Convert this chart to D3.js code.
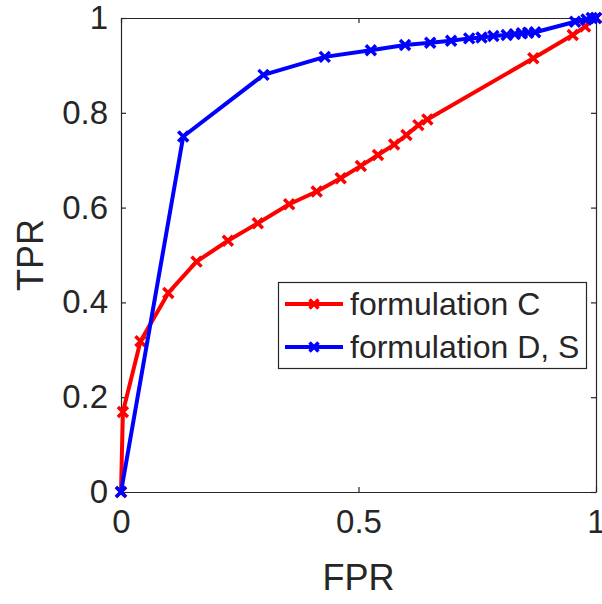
<!DOCTYPE html>
<html><head><meta charset="utf-8">
<script src="https://cdn.jsdelivr.net/npm/d3@7"></script>
<style>body{margin:0;background:#fff}svg{display:block}text{font-family:"Liberation Sans",Arial,sans-serif;fill:#262626}</style>
</head><body><svg id="c" width="602" height="604"></svg>
<script>
const seriesNames = ["formulation C", "formulation D, S"];
const seriesColors = ["#ff0000", "#0000ff"];
const fprC = [0, 0.004, 0.041, 0.0996, 0.159, 0.225, 0.288, 0.354, 0.412, 0.4625, 0.505, 0.541, 0.575, 0.601, 0.626, 0.645, 0.868, 0.951, 0.977, 1];
const tprC = [0, 0.169, 0.318, 0.420, 0.486, 0.530, 0.567, 0.607, 0.634, 0.662, 0.688, 0.711, 0.733, 0.753, 0.774, 0.786, 0.915, 0.964, 0.982, 1];
const fprDS = [0, 0.131, 0.300, 0.429, 0.526, 0.598, 0.651, 0.695, 0.733, 0.759, 0.784, 0.812, 0.829, 0.844, 0.857, 0.872, 0.956, 0.980, 0.991, 1];
const tprDS = [0, 0.750, 0.880, 0.918, 0.932, 0.943, 0.948, 0.952, 0.957, 0.959, 0.962, 0.964, 0.966, 0.968, 0.969, 0.970, 0.992, 0.997, 1.0, 1];
const xTicks = [0, 0.5, 1];
const yTicks = [0, 0.2, 0.4, 0.6, 0.8, 1];
const xTickLabels = ["0", "0.5", "1"];
const yTickLabels = ["0", "0.2", "0.4", "0.6", "0.8", "1"];

const L = 121, R = 596, T = 18, B = 492;
const svg = d3.select("#c");
const x = d3.scaleLinear().domain([0, 1]).range([L, R]);
const y = d3.scaleLinear().domain([0, 1]).range([B, T]);
const axisColor = "#262626";

// Axes
const fmtX = (d, i) => xTickLabels[i];
const fmtY = (d, i) => yTickLabels[i];
const gB = svg.append("g").attr("transform", `translate(0,${B})`)
  .call(d3.axisBottom(x).tickValues(xTicks).tickFormat(fmtX).tickSizeInner(-5).tickSizeOuter(0).tickPadding(18));
const gT = svg.append("g").attr("transform", `translate(0,${T})`)
  .call(d3.axisTop(x).tickValues(xTicks).tickFormat("").tickSizeInner(-5).tickSizeOuter(0));
const gL = svg.append("g").attr("transform", `translate(${L},0)`)
  .call(d3.axisLeft(y).tickValues(yTicks).tickFormat(fmtY).tickSizeInner(-5).tickSizeOuter(0).tickPadding(13));
const gR = svg.append("g").attr("transform", `translate(${R},0)`)
  .call(d3.axisRight(y).tickValues(yTicks).tickFormat("").tickSizeInner(-5).tickSizeOuter(0));
[gB, gT, gL, gR].forEach(g => {
  g.selectAll("path.domain").attr("stroke", axisColor).attr("stroke-width", 1.2);
  g.selectAll(".tick line").attr("stroke", axisColor).attr("stroke-width", 1.2);
  g.selectAll(".tick text").attr("font-size", 33).attr("fill", axisColor)
   .style("font-family", '"Liberation Sans",Arial,sans-serif');
});
gB.selectAll(".tick text").attr("dy", "0.71em");

// Axis labels
svg.append("text").attr("x", (L + R) / 2).attr("y", 590).attr("text-anchor", "middle")
  .attr("font-size", 36).text("FPR");
svg.append("text").attr("transform", `translate(43,${(T + B) / 2}) rotate(-90)`)
  .attr("text-anchor", "middle").attr("font-size", 36).text("TPR");

// Series
const series = [
  { fpr: fprC, tpr: tprC },
  { fpr: fprDS, tpr: tprDS }
];
const line = d3.line().x(d => x(d[0])).y(d => y(d[1]));
const cross = (g, cx, cy, s, col) => {
  g.append("path").attr("d", `M${cx - s},${cy - s}L${cx + s},${cy + s}M${cx - s},${cy + s}L${cx + s},${cy - s}`)
    .attr("stroke", col).attr("stroke-width", 3.5).attr("fill", "none");
};
series.forEach((s, i) => {
  const pts = s.fpr.map((f, j) => [f, s.tpr[j]]);
  const g = svg.append("g");
  g.append("path").datum(pts).attr("d", line).attr("fill", "none")
    .attr("stroke", seriesColors[i]).attr("stroke-width", 4).attr("stroke-linejoin", "round");
  pts.forEach(p => cross(g, x(p[0]), y(p[1]), 5, seriesColors[i]));
});

// Legend
const lg = svg.append("g");
lg.append("rect").attr("x", 278.5).attr("y", 282.5).attr("width", 308).attr("height", 86)
  .attr("fill", "#fff").attr("stroke", axisColor).attr("stroke-width", 1.2);
seriesNames.forEach((n, i) => {
  const yy = 304 + i * 43;
  lg.append("line").attr("x1", 285).attr("x2", 343).attr("y1", yy).attr("y2", yy)
    .attr("stroke", seriesColors[i]).attr("stroke-width", 4);
  cross(lg, 314, yy, 4.5, seriesColors[i]);
  lg.append("text").attr("x", 350).attr("y", yy).attr("dy", "0.35em")
    .attr("font-size", 32).attr("fill", "#000").text(n);
});
</script></body></html>
